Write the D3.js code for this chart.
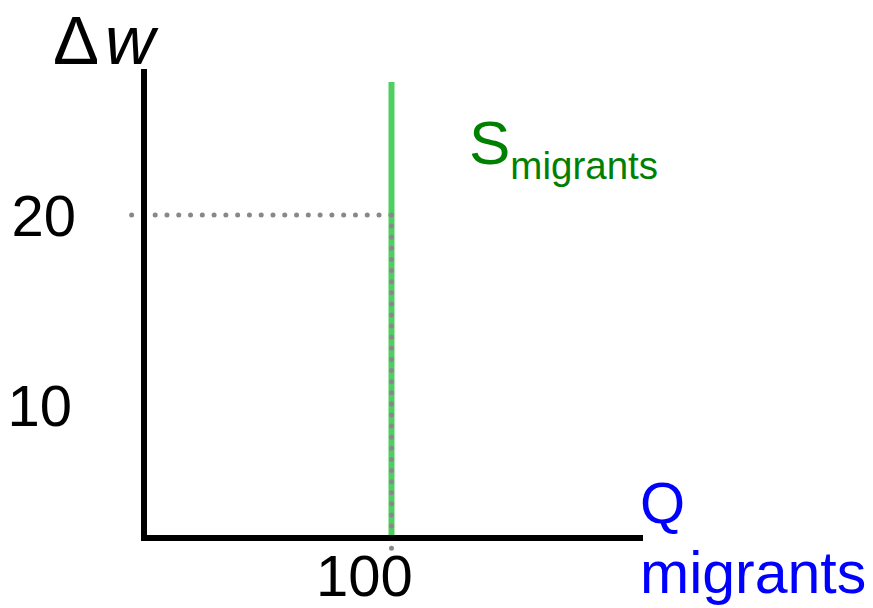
<!DOCTYPE html>
<html>
  <head>
    <script src="https://d3js.org/d3.v7.min.js"></script>
    <style>
      body { margin:0; background:#fff; }
      text { font-family: "Liberation Sans", Arial, sans-serif; }
    </style>
  </head>
  <body>
    <script>
      // values
      let yTicks = [20, 10];          // wage change labels
      let xTicks = [100];             // quantity labels
      let supplyQ = [100];            // vertical migrant supply
      let supplyTop = [27];
      let equilibrium = [{q: 100, w: 20}];

      let width = 873, height = 608;
      let frameLeft = 144, frameRight = 643, frameTop = 69, frameBottom = 538;

      let x = d3.scaleLinear().domain([0, 200]).range([frameLeft, 639]);
      let y = d3.scaleLinear().domain([0, 30]).range([595, 25]);

      let svg = d3.select("body").append("svg")
          .attr("width", width).attr("height", height);

      // dotted guide across
      equilibrium.forEach(function(d){
          svg.append("line")
              .attr("x1", x(-5)).attr("x2", x(d.q))
              .attr("y1", y(d.w)).attr("y2", y(d.w))
              .attr("stroke", "#888").attr("stroke-width", 5)
              .attr("stroke-linecap", "round")
              .attr("stroke-dasharray", "0.01 11.77");
      });

      // supply line
      svg.selectAll(".supply").data(supplyQ).enter().append("line")
          .attr("class", "supply")
          .attr("x1", d => x(d)).attr("x2", d => x(d))
          .attr("y1", (d, i) => y(supplyTop[i])).attr("y2", frameBottom)
          .attr("stroke", "#4fcf62").attr("stroke-width", 6);

      // dotted guide down
      equilibrium.forEach(function(d){
          svg.append("line")
              .attr("x1", x(d.q)).attr("x2", x(d.q))
              .attr("y1", y(d.w)).attr("y2", y(2.4))
              .attr("stroke", "#888").attr("stroke-width", 5)
              .attr("stroke-linecap", "round")
              .attr("stroke-dasharray", "0.01 11.1");
      });

      // axes
      svg.append("line").attr("x1", frameLeft).attr("x2", frameLeft)
          .attr("y1", frameTop).attr("y2", frameBottom + 3)
          .attr("stroke", "#000").attr("stroke-width", 6);
      svg.append("line").attr("x1", frameLeft - 3).attr("x2", frameRight)
          .attr("y1", frameBottom).attr("y2", frameBottom)
          .attr("stroke", "#000").attr("stroke-width", 6);

      // tick labels
      svg.selectAll(".ytick").data(yTicks).enter().append("text")
          .attr("x", (d, i) => i == 0 ? 76 : 72)
          .attr("y", d => y(d) + 21)
          .attr("text-anchor", "end").attr("font-size", 58)
          .text(d => d);
      svg.selectAll(".xtick").data(xTicks).enter().append("text")
          .attr("x", d => x(d) - 27).attr("y", 596)
          .attr("text-anchor", "middle").attr("font-size", 58)
          .text(d => d);

      // axis titles
      let dw = svg.append("text").attr("x", 53).attr("y", 64).attr("font-size", 69);
      dw.append("tspan").text("Δ");
      dw.append("tspan").attr("font-style", "italic").attr("dx", 6).text("w");

      svg.append("text").attr("x", 640).attr("y", 523)
          .attr("font-size", 58).attr("fill", "#0000ff").text("Q");
      svg.append("text").attr("x", 640).attr("y", 593)
          .attr("font-size", 59).attr("fill", "#0000ff").text("migrants");

      let s = svg.append("text").attr("x", 469).attr("y", 164)
          .attr("font-size", 62).attr("fill", "#008000");
      s.append("tspan").text("S");
      s.append("tspan").attr("font-size", 38.5).attr("dy", 15).text("migrants");
    </script>
  </body>
</html>
